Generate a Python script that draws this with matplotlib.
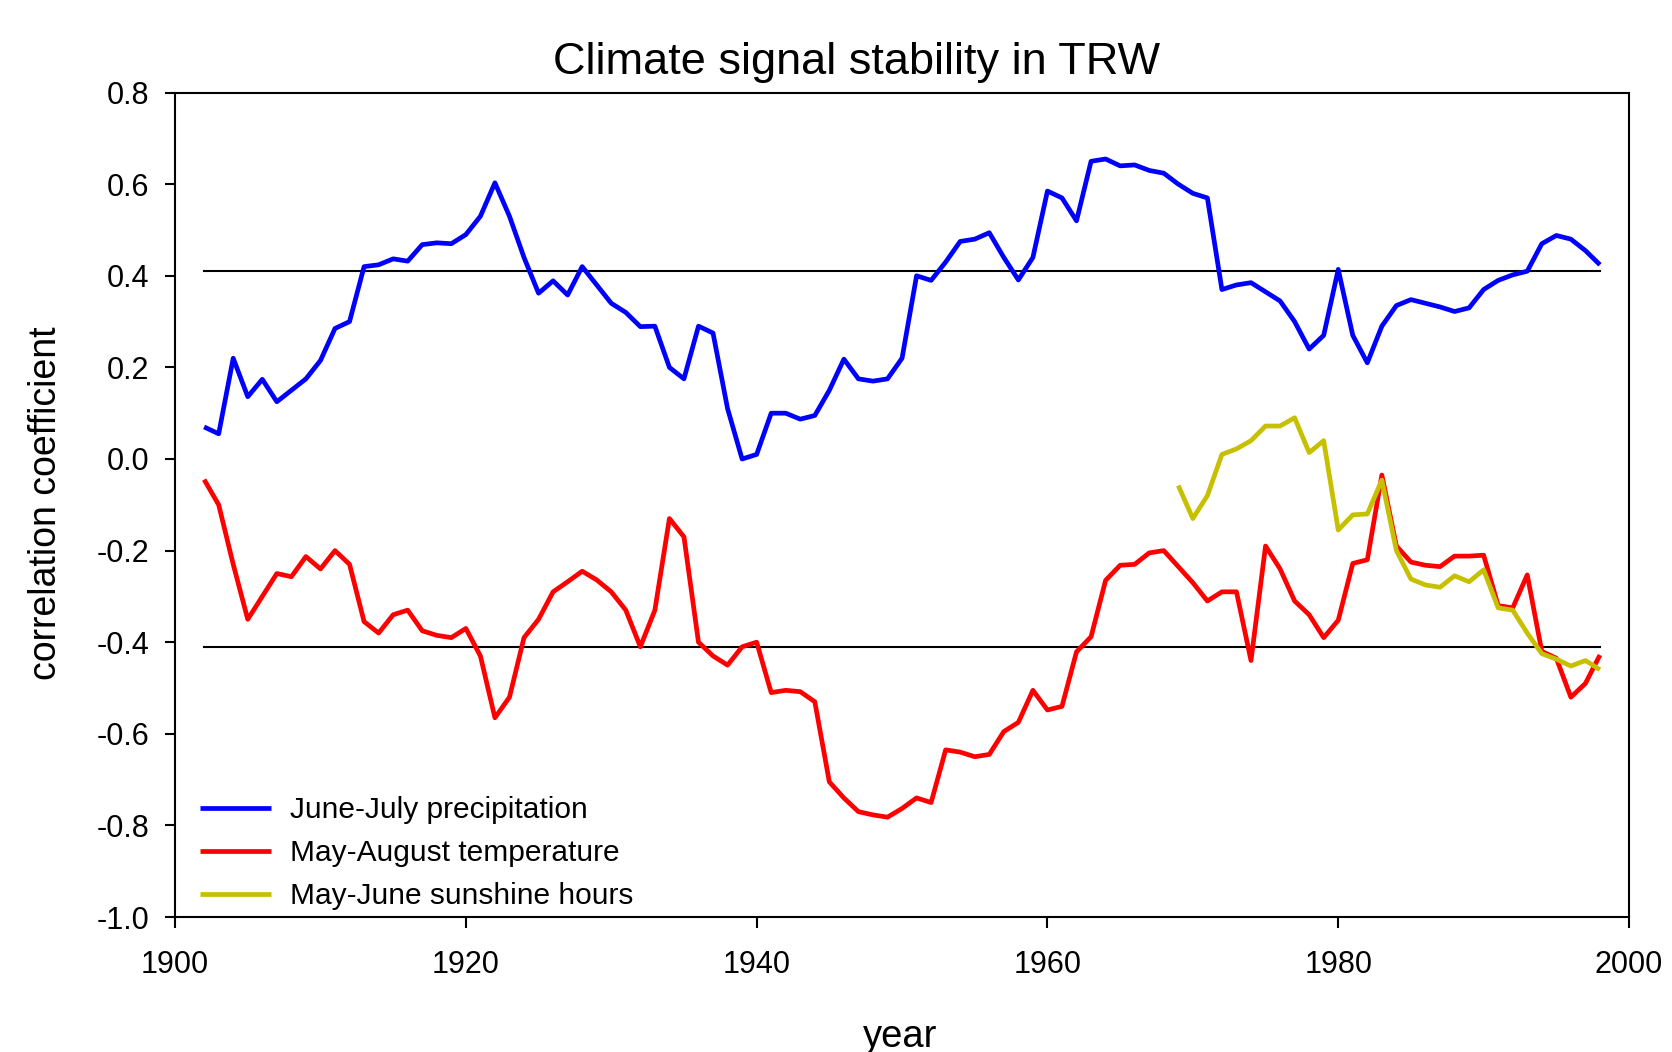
import matplotlib.pyplot as plt
from matplotlib.ticker import FormatStrFormatter

# annual values, 1902-1998
years = list(range(1902, 1999))
precip_jj = [0.07, 0.055, 0.22, 0.136, 0.174, 0.125, 0.15, 0.175, 0.215, 0.285,
             0.30, 0.42, 0.424, 0.437, 0.432, 0.468, 0.472, 0.47, 0.49, 0.53,
             0.603, 0.53, 0.44, 0.362, 0.389, 0.358, 0.42, 0.38, 0.34, 0.32,
             0.289, 0.29, 0.20, 0.175, 0.29, 0.275, 0.11, 0.0, 0.01, 0.10,
             0.10, 0.087, 0.095, 0.15, 0.218, 0.175, 0.17, 0.175, 0.22, 0.40,
             0.39, 0.43, 0.475, 0.48, 0.494, 0.44, 0.391, 0.44, 0.585, 0.57,
             0.52, 0.65, 0.655, 0.64, 0.642, 0.63, 0.624, 0.60, 0.58, 0.57,
             0.37, 0.38, 0.385, 0.365, 0.345, 0.30, 0.24, 0.27, 0.414, 0.27,
             0.21, 0.29, 0.335, 0.348, 0.34, 0.332, 0.322, 0.33, 0.37, 0.39,
             0.402, 0.41, 0.47, 0.488, 0.48, 0.455, 0.424]
temp_ma = [-0.045, -0.10, -0.23, -0.35, -0.30, -0.25, -0.257, -0.213, -0.24, -0.20,
           -0.23, -0.355, -0.38, -0.34, -0.33, -0.375, -0.385, -0.39, -0.37, -0.43,
           -0.565, -0.52, -0.39, -0.35, -0.29, -0.268, -0.245, -0.264, -0.29, -0.33,
           -0.41, -0.33, -0.13, -0.17, -0.40, -0.43, -0.45, -0.41, -0.40, -0.51,
           -0.505, -0.508, -0.53, -0.705, -0.74, -0.77, -0.777, -0.782, -0.763, -0.74,
           -0.75, -0.635, -0.64, -0.65, -0.645, -0.595, -0.575, -0.505, -0.548, -0.54,
           -0.421, -0.388, -0.265, -0.232, -0.23, -0.205, -0.20, -0.235, -0.27, -0.31,
           -0.29, -0.29, -0.44, -0.19, -0.24, -0.31, -0.34, -0.39, -0.352, -0.228,
           -0.22, -0.035, -0.19, -0.225, -0.232, -0.235, -0.212, -0.212, -0.21, -0.32,
           -0.325, -0.253, -0.42, -0.435, -0.52, -0.49, -0.428]
sun_years = list(range(1969, 1999))
sun_mj = [-0.058, -0.13, -0.08, 0.01, 0.022, 0.04, 0.072, 0.072, 0.09, 0.014,
          0.04, -0.155, -0.122, -0.12, -0.046, -0.20, -0.262, -0.275, -0.28, -0.255,
          -0.268, -0.242, -0.325, -0.33, -0.38, -0.425, -0.437, -0.452, -0.44, -0.46]
sig_years = [1902, 1998]
sig_level = 0.41

plt.rcParams['font.family'] = ['Liberation Sans', 'DejaVu Sans']
plt.rcParams['axes.unicode_minus'] = False

fig = plt.figure(figsize=(16.72, 10.52), dpi=100)
ax = fig.add_axes([0.1047, 0.1283, 0.8696, 0.7837])

ax.plot(sig_years, [sig_level, sig_level], color='black', lw=1.5)
ax.plot(sig_years, [-sig_level, -sig_level], color='black', lw=1.5)
line_kw = dict(lw=3.4, solid_joinstyle='round', solid_capstyle='butt')
ax.plot(years, precip_jj, color='#0000ff', label='June-July precipitation', **line_kw)
ax.plot(years, temp_ma, color='#ff0000', label='May-August temperature', **line_kw)
ax.plot(sun_years, sun_mj, color='#c6c000', label='May-June sunshine hours', **line_kw)

ax.set_xlim(1900, 2000)
ax.set_ylim(-1.0, 0.8)
ax.set_xticks(range(1900, 2001, 20))
ax.set_yticks([-1.0, -0.8, -0.6, -0.4, -0.2, 0.0, 0.2, 0.4, 0.6, 0.8])
ax.yaxis.set_major_formatter(FormatStrFormatter('%.1f'))
ax.tick_params(axis='x', labelsize=22, length=8, width=1.5, pad=16)
ax.tick_params(axis='y', labelsize=22, length=7.5, width=1.5, pad=11)
for sp in ax.spines.values():
    sp.set_linewidth(1.5)

ax.set_title('Climate signal stability in TRW', fontsize=32.5, x=0.469, y=1.022, pad=0)
ax.set_ylabel('correlation coefficient', fontsize=27, va='center')
ax.yaxis.set_label_coords(-0.0885, 0.502)
ax.set_xlabel('year', fontsize=27.5, va='baseline')
ax.xaxis.set_label_coords(0.499, -0.158)

ax.legend(loc='lower left', bbox_to_anchor=(0.0172, 0.008), frameon=False,
          fontsize=21.5, handlelength=2.38, handletextpad=0.64,
          labelspacing=0.51, borderpad=0, borderaxespad=0)

fig.savefig('out.png', dpi=100)
